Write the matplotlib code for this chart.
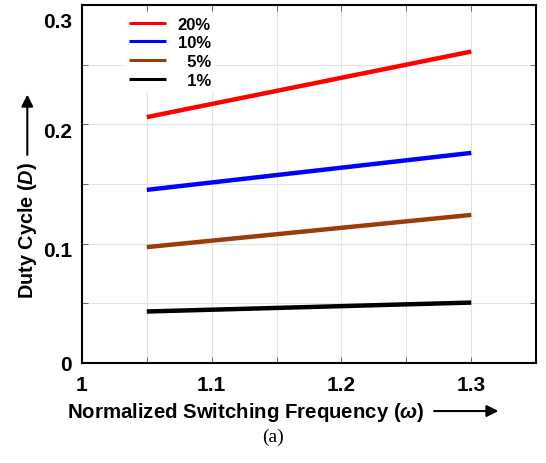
import matplotlib
matplotlib.use("Agg")
import matplotlib.pyplot as plt
import matplotlib.transforms as mtransforms
import numpy as np

plt.rcParams['font.family'] = 'Liberation Sans'
plt.rcParams['font.weight'] = 'bold'
plt.rcParams['mathtext.fontset'] = 'custom'
plt.rcParams['mathtext.rm'] = 'Liberation Sans:bold'
plt.rcParams['mathtext.it'] = 'Liberation Sans:bold:italic'

# ------------------------------------------------------------------
# Data
# ------------------------------------------------------------------
omega = [1.05, 1.30]
duty_20 = [0.206, 0.261]
duty_10 = [0.145, 0.176]
duty_5 = [0.097, 0.124]
duty_1 = [0.043, 0.0505]

labels = ['20%', '10%', '  5%', '  1%']
colors = ['#ff0000', '#0000ff', '#9a3c0c', '#000000']

# ------------------------------------------------------------------
# Plot
# ------------------------------------------------------------------
fig = plt.figure(figsize=(5.46, 4.64), dpi=100)
ax = fig.add_axes([0.150, 0.216, 0.832, 0.771])

for y, lab, c in zip([duty_20, duty_10, duty_5, duty_1], labels, colors):
    ax.plot(omega, y, color=c, lw=3.2, label=lab, solid_capstyle='butt')

ax.set_xlim(1.0, 1.35)
ax.set_ylim(0.0, 0.3)
ax.set_xticks(np.arange(1.0, 1.351, 0.05))
ax.set_yticks(np.arange(0.0, 0.301, 0.05))
ax.set_xticklabels(['1', '', '1.1', '', '1.2', '', '1.3', ''])
ax.set_yticklabels(['0', '', '0.1', '', '0.2', '', '0.3'])
ax.tick_params(direction='in', length=4, width=0.6, color='#555555',
               top=True, right=True, labelsize=15, pad=7)
ax.tick_params(axis='x', pad=9)
ax.grid(True, color='#e3e3e3', lw=0.8)
ax.set_axisbelow(True)
for s in ax.spines.values():
    s.set_linewidth(1.5)

# y tick labels sit a little below their ticks, top one more so
shifts = [0, 0, -5, 0, -5, 0, -14]
for lbl, dy in zip(ax.get_yticklabels(), shifts):
    lbl.set_transform(lbl.get_transform() +
                      mtransforms.ScaledTranslation(0, dy / 100, fig.dpi_scale_trans))

leg = ax.legend(loc='upper left', bbox_to_anchor=(0.075, 1.005), frameon=True,
                fontsize=12, handlelength=2.2, handletextpad=0.7,
                labelspacing=0.22, borderpad=0.3)
leg.get_frame().set_edgecolor('none')
leg.get_frame().set_facecolor('white')
leg.get_frame().set_alpha(1.0)
for line in leg.get_lines():
    line.set_linewidth(2.2)

# axis labels with arrows
fig.text(0.05, 0.503, r'Duty Cycle $(\mathit{D})$', rotation=90,
         ha='center', va='center', fontsize=14.3)
fig.add_artist(matplotlib.patches.FancyArrowPatch(
    (0.05, 0.658), (0.05, 0.80), transform=fig.transFigure,
    arrowstyle='-|>,head_length=0.5,head_width=0.25', lw=1.5, color='black',
    mutation_scale=14))

fig.text(0.45, 0.112, r'Normalized Switching Frequency $(\mathit{\omega})$',
         ha='center', va='center', fontsize=14.7)
fig.add_artist(matplotlib.patches.FancyArrowPatch(
    (0.79, 0.112), (0.918, 0.112), transform=fig.transFigure,
    arrowstyle='-|>,head_length=0.5,head_width=0.25', lw=1.5, color='black',
    mutation_scale=14))

fig.text(0.5, 0.058, '(a)', ha='center', va='center', fontsize=14,
         family='Liberation Serif', weight='normal')

fig.savefig('out.png', dpi=100)
